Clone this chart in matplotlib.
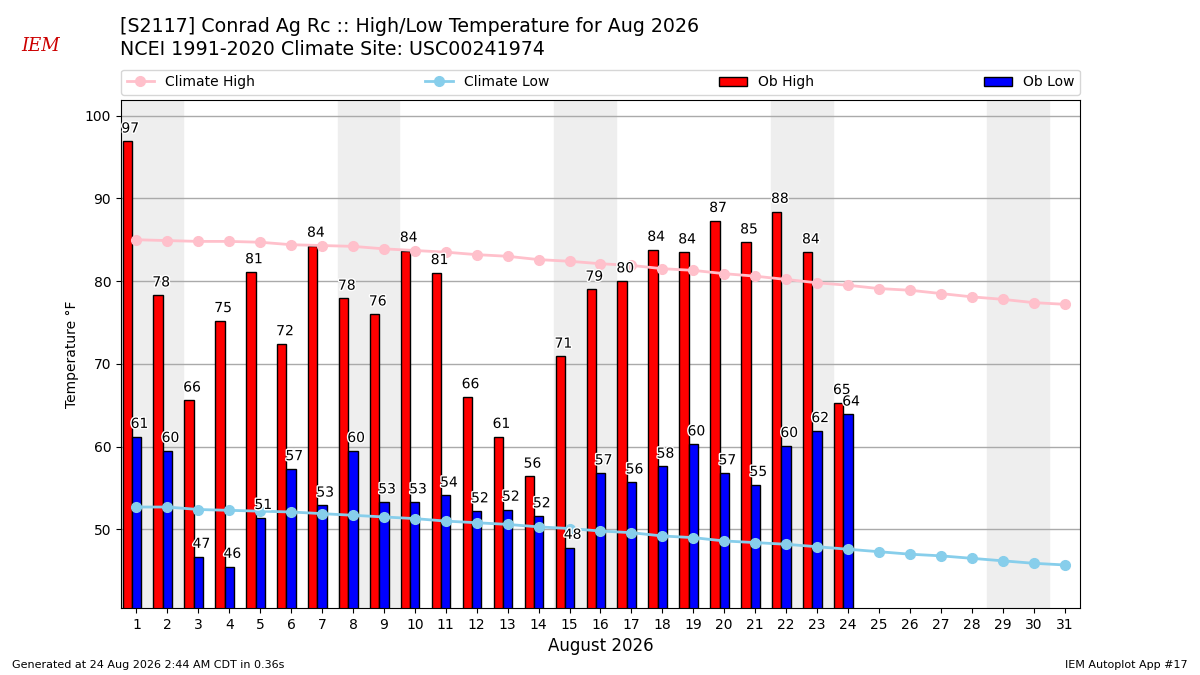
# High/Low Temperature chart, Conrad Ag Rc, August 2026

import numpy as np
import matplotlib
matplotlib.use('Agg')
import matplotlib.pyplot as plt
import matplotlib.patheffects as PathEffects

# Observed values (days 1-24)
ob_days = np.arange(1, 25)
ob_high = [96.9, 78.3, 65.6, 75.2, 81.1, 72.4, 84.3, 77.9, 76.0, 83.7, 81.0, 66.0,
           61.2, 56.4, 70.9, 79.0, 80.0, 83.8, 83.5, 87.3, 84.7, 88.4, 83.5, 65.3]
ob_low = [61.2, 59.5, 46.7, 45.5, 51.4, 57.3, 52.9, 59.5, 53.3, 53.3, 54.1, 52.2,
          52.4, 51.6, 47.8, 56.8, 55.7, 57.6, 60.3, 56.8, 55.4, 60.1, 61.9, 63.9]

# Climatology (days 1-31)
clim_days = np.arange(1, 32)
clim_high = [85.0, 84.9, 84.8, 84.8, 84.7, 84.4, 84.3, 84.2, 83.9, 83.7, 83.5, 83.2,
             83.0, 82.6, 82.4, 82.1, 81.9, 81.5, 81.3, 80.9, 80.6, 80.2, 79.8, 79.5,
             79.1, 78.9, 78.5, 78.1, 77.8, 77.4, 77.2]
clim_low = [52.7, 52.7, 52.4, 52.3, 52.2, 52.1, 51.9, 51.7, 51.5, 51.3, 51.0, 50.8,
            50.6, 50.3, 50.1, 49.8, 49.6, 49.2, 49.0, 48.6, 48.4, 48.2, 47.9, 47.6,
            47.3, 47.0, 46.8, 46.5, 46.2, 45.9, 45.7]

# Wochenenden (Sa/So)
weekends = [1, 8, 15, 22, 29]

fig = plt.figure(figsize=(12, 6.75), dpi=100)
ax = fig.add_axes([0.1008, 0.0993, 0.7992, 0.7527])

for d in weekends:
    ax.axvspan(d - 0.5, d + 1.5, color='#eeeeee', zorder=0)

ax.bar(ob_days - 0.3, ob_high, width=0.3, fc='r', ec='k', label='Ob High', zorder=2)
ax.bar(ob_days, ob_low, width=0.3, fc='b', ec='k', label='Ob Low', zorder=2)

ax.plot(clim_days, clim_high, '-o', color='pink', lw=2, ms=7, label='Climate High', zorder=3)
ax.plot(clim_days, clim_low, '-o', color='skyblue', lw=2, ms=7, label='Climate Low', zorder=3)

for x, v in zip(ob_days - 0.3, ob_high):
    t = ax.text(x + 0.1, v + 0.7, '%.0f' % v, ha='center', va='bottom', fontsize=10, zorder=4)
    t.set_path_effects([PathEffects.withStroke(linewidth=2, foreground='w')])
for x, v in zip(ob_days, ob_low):
    t = ax.text(x + 0.1, v + 0.7, '%.0f' % v, ha='center', va='bottom', fontsize=10, zorder=4)
    t.set_path_effects([PathEffects.withStroke(linewidth=2, foreground='w')])

ax.set_xlim(0.5, 31.5)
ax.set_ylim(min(ob_low) - 5, max(ob_high) + 5)
ax.set_xticks(clim_days)
ax.set_yticks([50, 60, 70, 80, 90, 100])
ax.yaxis.grid(True, color='#aaaaaa', lw=1)
ax.set_axisbelow(True)
ax.set_xlabel('August 2026', fontsize=12)
ax.set_ylabel('Temperature °F')

ax.legend(loc='lower left', bbox_to_anchor=(0, 1.01, 1, 0.05), ncol=4, mode='expand',
          borderaxespad=0, fontsize=10)

fig.text(0.1, 0.953, '[S2117] Conrad Ag Rc :: High/Low Temperature for Aug 2026', fontsize=13.7)
fig.text(0.1, 0.918, 'NCEI 1991-2020 Climate Site: USC00241974', fontsize=13.7)
fig.text(0.018, 0.925, 'IEM', fontsize=13, color='#cc0000', family='DejaVu Serif', style='italic')
fig.text(0.01, 0.01, 'Generated at 24 Aug 2026 2:44 AM CDT in 0.36s', fontsize=8)
fig.text(0.99, 0.01, 'IEM Autoplot App #17', fontsize=8, ha='right')

fig.savefig('out.png', dpi=100)
